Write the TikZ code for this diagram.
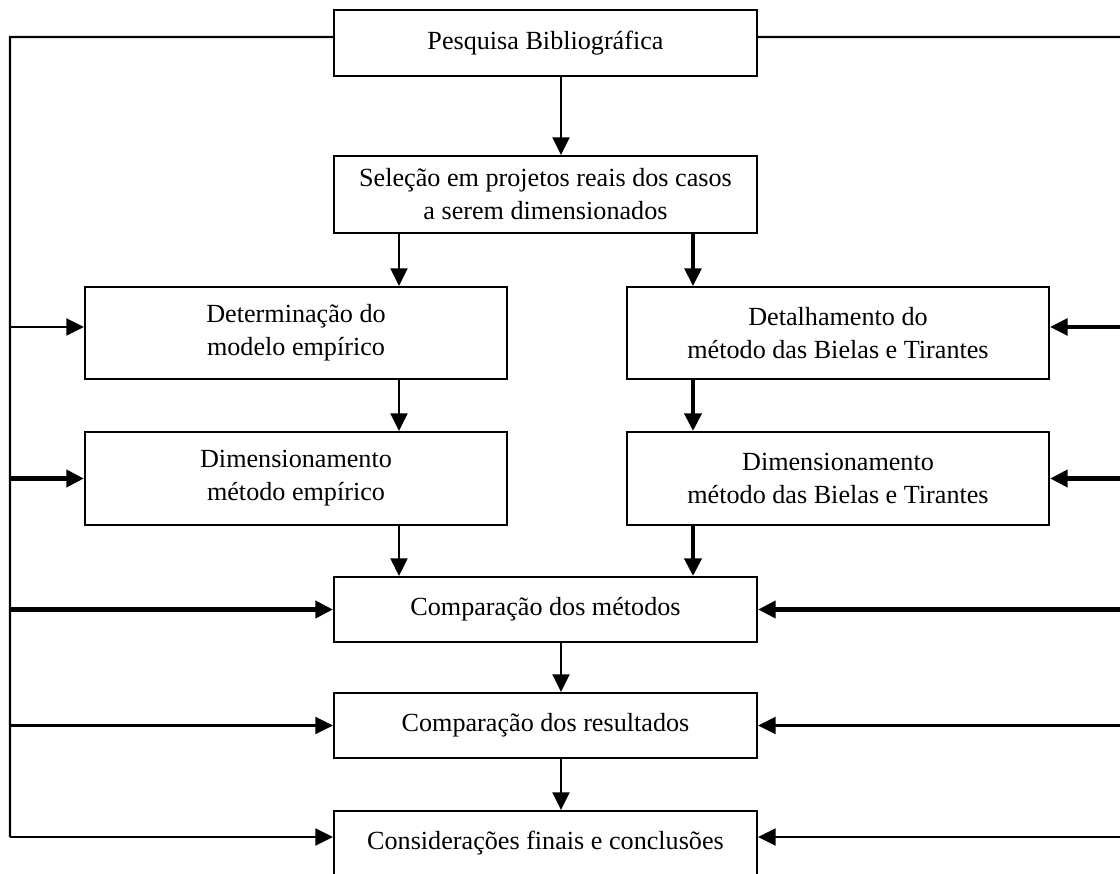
\documentclass[tikz,border=0pt]{standalone}
\usepackage{fontspec}
\setmainfont{Liberation Serif}
\usetikzlibrary{arrows.meta}

\begin{document}
\begin{tikzpicture}[x=0.025cm, y=-0.025cm,
    every node/.style={font=\fontsize{18.6}{23.5}\selectfont},
    caixa/.style={draw, line width=1.4pt, align=center, inner sep=0pt},
    central/.style={caixa, minimum width=10.575cm},
    lateral/.style={caixa, minimum width=10.55cm},
    linha/.style={line width=1.5pt},
    seta/.style={-{Triangle[length=0.44cm, width=0.42cm]}, line width=1.9pt},
    grossa/.style={line width=3.1pt}]
    \useasboundingbox (0,0) rectangle (1120,874);

    % caixas centrais
    \node[central, minimum height=1.65cm] (pesq) at (545.5,43) {Pesquisa Bibliográfica};
    \node[central, minimum height=1.925cm] (sel) at (545.5,194.5)
    {Seleção em projetos reais dos casos\\a serem dimensionados};
    \node[central, minimum height=1.625cm] (comp) at (545.5,609.5) {Comparação dos métodos};
    \node[central, minimum height=1.625cm] (res) at (545.5,725.5) {Comparação dos resultados};
    \node[central, minimum height=1.625cm] (cons) at (545.5,843.5) {Considerações finais e conclusões};

    % caixas laterais
    \node[lateral, minimum height=2.3cm] (det) at (296,333) {Determinação do\\modelo empírico};
    \node[lateral, minimum height=2.325cm] (dimE) at (296,478.5) {Dimensionamento\\método empírico};
    \node[lateral, minimum height=2.3cm] (dtl) at (838,333) {Detalhamento do\\método das Bielas e Tirantes};
    \node[lateral, minimum height=2.325cm] (dimB) at (838,478.5) {Dimensionamento\\método das Bielas e Tirantes};

    \coordinate (cm) at (561,0);
    \coordinate (cl) at (399,0);
    \coordinate (cr) at (693,0);
    \coordinate (te) at (10,37);
    \coordinate (td) at (1124,37);
    \coordinate (pesqE) at ([yshift=4.3pt]pesq.west);
    \coordinate (pesqD) at ([yshift=4.3pt]pesq.east);
    \coordinate (detE) at ([yshift=4.3pt]det.west);
    \coordinate (dtlD) at ([yshift=4.3pt]dtl.east);
    \coordinate (consE) at ([yshift=4.6pt]cons.west);
    \coordinate (consD) at ([yshift=4.6pt]cons.east);

    % fluxo principal
    \draw[seta] (pesq.south -| cm) -- (sel.north -| cm);
    \draw[seta] (sel.south -| cl) -- (det.north -| cl);
    \draw[seta, line width=2.4pt] (sel.south -| cr) -- (dtl.north -| cr);
    \draw[seta] (det.south -| cl) -- (dimE.north -| cl);
    \draw[seta, grossa] (dtl.south -| cr) -- (dimB.north -| cr);
    \draw[seta] (dimE.south -| cl) -- (comp.north -| cl);
    \draw[seta, grossa] (dimB.south -| cr) -- (comp.north -| cr);
    \draw[seta] (comp.south -| cm) -- (res.north -| cm);
    \draw[seta] (res.south -| cm) -- (cons.north -| cm);

    % retorno pela esquerda
    \draw[linha] (pesqE) -- (te) -- (te |- consE);
    \draw[seta] (te |- detE) -- (detE);
    \draw[seta, grossa] (te |- dimE.west) -- (dimE.west);
    \draw[seta, grossa] (te |- comp.west) -- (comp.west);
    \draw[seta] (te |- res.west) -- (res.west);
    \draw[seta] (te |- consE) -- (consE);

    % retorno pela direita
    \draw[linha] (pesqD) -- (td) -- (td |- consD);
    \draw[seta, line width=2.4pt] (td |- dtlD) -- (dtlD);
    \draw[seta, grossa] (td |- dimB.east) -- (dimB.east);
    \draw[seta, grossa] (td |- comp.east) -- (comp.east);
    \draw[seta] (td |- res.east) -- (res.east);
    \draw[seta] (td |- consD) -- (consD);
\end{tikzpicture}
\end{document}
